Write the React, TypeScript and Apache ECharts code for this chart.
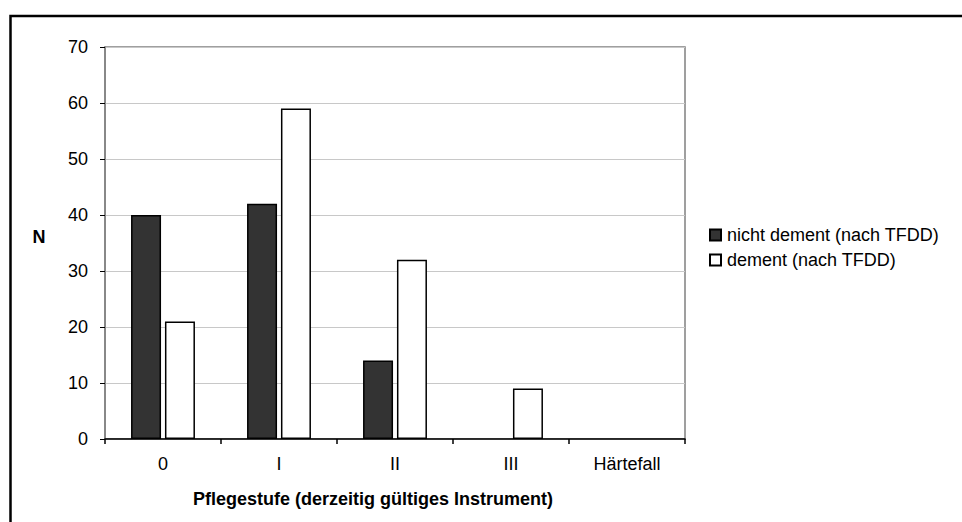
import React, { useEffect, useRef } from "react";
import * as echarts from "echarts";

const categories = ["0", "I", "II", "III", "Härtefall"];
const nichtDement = [40, 42, 14, 0, 0];
const dement = [21, 59, 32, 9, 0];
const seriesNames = ["nicht dement (nach TFDD)", "dement (nach TFDD)"];
const yTicks = { min: 0, max: 70, interval: 10 };
const xTitle = "Pflegestufe (derzeitig gültiges Instrument)";
const yTitle = "N";

const FONT = "'Liberation Sans', Arial, sans-serif";

const toData = (vals: number[]) =>
  vals.map((v) => (v === 0 ? { value: v, itemStyle: { borderWidth: 0, opacity: 0 } } : v));

export default function App() {
  const ref = useRef<HTMLDivElement>(null);
  useEffect(() => {
    if (!ref.current) return;
    const chart = echarts.init(ref.current, undefined, { renderer: "svg" });
    chart.setOption({
      animation: false,
      backgroundColor: "#ffffff",
      textStyle: { fontFamily: FONT },
      grid: {
        left: 105,
        top: 47,
        width: 580,
        height: 392,
        show: true,
        borderColor: "#808080",
        borderWidth: 1.5,
        containLabel: false,
      },
      legend: {
        orient: "vertical",
        left: 709,
        top: 226,
        padding: 0,
        itemWidth: 11,
        itemHeight: 11,
        itemGap: 7,
        icon: "rect",
        textStyle: { fontSize: 18, color: "#000", fontFamily: FONT, padding: [0, 0, 0, 1] },
        data: seriesNames,
      },
      xAxis: {
        type: "category",
        data: categories,
        offset: 2,
        axisLine: { show: true, lineStyle: { color: "#000", width: 1.5 } },
        axisTick: { show: true, length: 5, lineStyle: { color: "#000", width: 1.5 } },
        axisLabel: { fontSize: 18, color: "#000", margin: 14, fontFamily: FONT },
        splitLine: { show: false },
      },
      yAxis: {
        type: "value",
        min: yTicks.min,
        max: yTicks.max,
        interval: yTicks.interval,
        axisLine: { show: true, lineStyle: { color: "#808080", width: 1.5 } },
        axisTick: { show: true, length: 5, lineStyle: { color: "#000", width: 1 } },
        axisLabel: { fontSize: 18, color: "#000", margin: 17, fontFamily: FONT },
        splitLine: { show: true, lineStyle: { color: "#c8c8c8", width: 1 } },
      },
      series: [
        {
          name: seriesNames[0],
          type: "bar",
          data: toData(nichtDement),
          barWidth: 30,
          barGap: "13%",
          itemStyle: { color: "#333333", borderColor: "#000", borderWidth: 1.5 },
        },
        {
          name: seriesNames[1],
          type: "bar",
          data: toData(dement),
          barWidth: 30,
          barGap: "13%",
          itemStyle: { color: "#ffffff", borderColor: "#000", borderWidth: 1.5 },
        },
      ],
      graphic: [
        {
          type: "rect",
          silent: true,
          z: -10,
          shape: { x: 10.5, y: 16, width: 1200, height: 1200 },
          style: { fill: "none", stroke: "#000", lineWidth: 2.5 },
        },
        {
          type: "text",
          x: 39,
          y: 237,
          style: {
            text: yTitle,
            fontSize: 18,
            fontWeight: "bold",
            fontFamily: FONT,
            fill: "#000",
            align: "center",
            verticalAlign: "middle",
          },
        },
        {
          type: "text",
          x: 373,
          y: 499,
          style: {
            text: xTitle,
            fontSize: 18,
            fontWeight: "bold",
            fontFamily: FONT,
            fill: "#000",
            align: "center",
            verticalAlign: "middle",
          },
        },
      ],
    });
    return () => chart.dispose();
  }, []);
  return (
    <div
      ref={ref}
      style={{ position: "fixed", left: 0, top: 0, width: 962, height: 522, overflow: "hidden" }}
    />
  );
}
